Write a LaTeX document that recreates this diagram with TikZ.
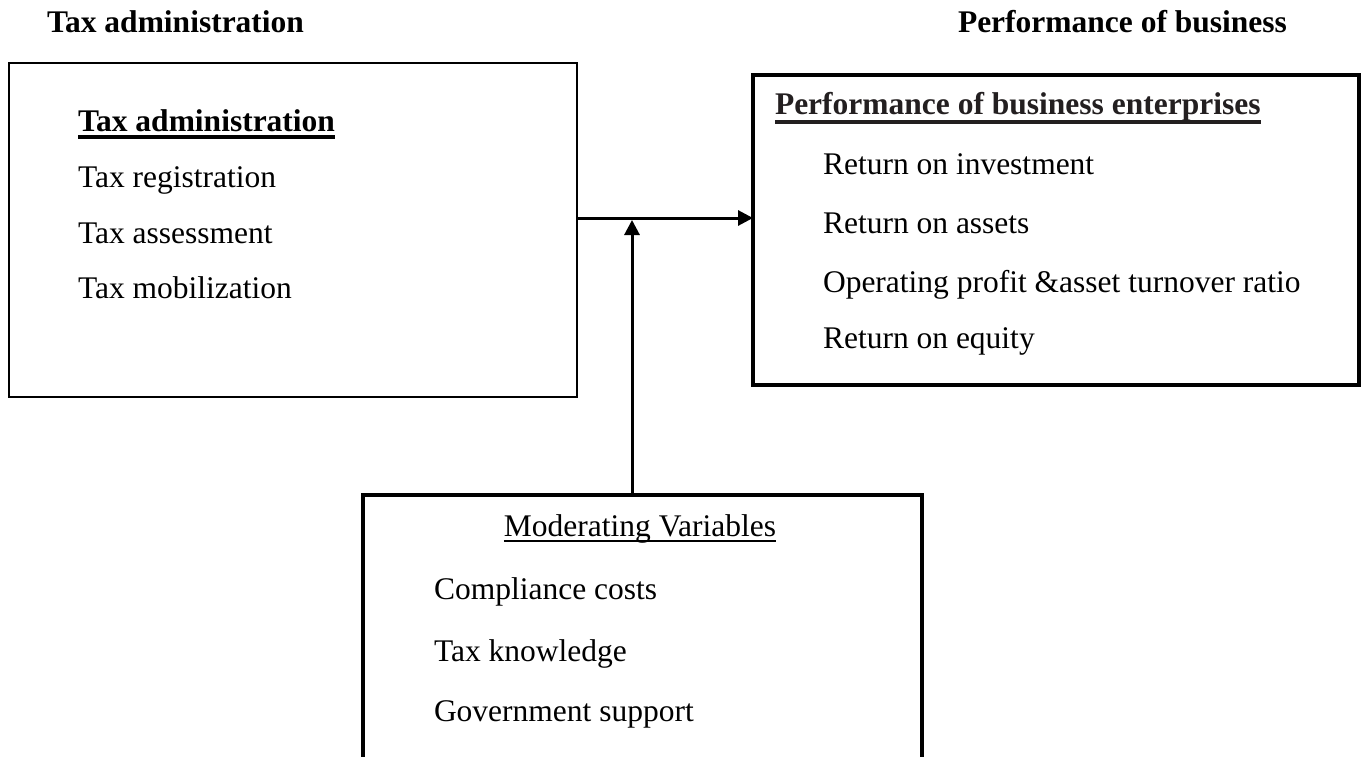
\documentclass[tikz,border=0pt]{standalone}
\usepackage{fontspec}
\setmainfont{Liberation Serif}
\usetikzlibrary{arrows.meta}
\definecolor{titlecol}{RGB}{35,31,32}
\newcommand\myul[3]{\setbox0\hbox{#3}\rlap{\rule[-#1]{\wd0}{#2}}\box0}
\begin{document}
\begin{tikzpicture}[x=1pt,y=-1pt,
  txt/.style={inner sep=0pt,outer sep=0pt,anchor=base west,font=\fontsize{31.5}{36}\selectfont},
  btxt/.style={txt,font=\fontsize{31.5}{36}\selectfont\bfseries},
  thinbox/.style={draw,line width=1.5pt,inner sep=0pt,outer sep=0pt},
  thickbox/.style={draw,line width=4pt,inner sep=0pt,outer sep=0pt},
  arr/.style={line width=3pt,-{Triangle[length=15pt,width=15pt]}}]
\useasboundingbox (0,0) rectangle (1363,757);
\clip (0,0) rectangle (1363,757);
% headers
\node[btxt] (hdrL) at (47,33) {Tax administration};
\node[btxt] (hdrR) at (958,33) {Performance of business};
% boxes
\node[thinbox,minimum width=568pt,minimum height=334pt] (left) at (293,230) {};
\node[thickbox,minimum width=606pt,minimum height=310pt] (right) at (1056,230) {};
\node[thickbox,minimum width=559pt,minimum height=330pt] (bottom) at (642.5,660) {};
% left box text
\node[btxt] (lt) at (78,132) {\myul{7pt}{4pt}{Tax administration}};
\node[txt] (l1) at (78,187) {Tax registration};
\node[txt] (l2) at (78,243) {Tax assessment};
\node[txt] (l3) at (78,298) {Tax mobilization};
% right box text
\node[btxt,text=titlecol] (rt) at (775,115) {\myul{9pt}{4pt}{Performance of business enterprises}};
\node[txt] (r1) at (823,175) {Return on investment};
\node[txt] (r2) at (823,233) {Return on assets};
\node[txt] (r3) at (823,292) {Operating profit \&asset turnover ratio};
\node[txt] (r4) at (823,348) {Return on equity};
% bottom box text
\node[txt,anchor=base] (bt) at (640,536.5) {\myul{5pt}{2pt}{Moderating Variables}};
\node[txt] (b1) at (434,599) {Compliance costs};
\node[txt] (b2) at (434,661) {Tax knowledge};
\node[txt] (b3) at (434,721) {Government support};
% connectors
\coordinate (j) at (632,218);
\coordinate (jt) at (632,220);
\draw[arr] (left.east |- j) -- (right.west |- j);
\draw[arr] (bottom.north -| jt) -- (jt);
\end{tikzpicture}
\end{document}
